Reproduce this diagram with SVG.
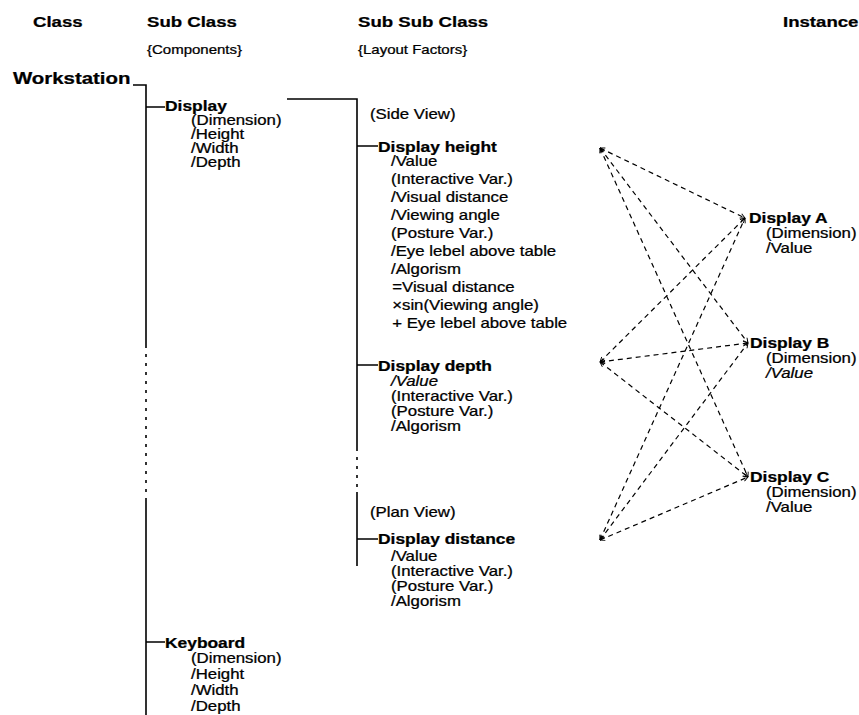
<svg xmlns="http://www.w3.org/2000/svg" width="859" height="715" viewBox="0 0 859 715">
  <defs>
    <style>
      .t{font-family:"Liberation Sans",Arial,Helvetica,sans-serif;font-size:14px;fill:#000;stroke:#000;stroke-width:0.25}
      .b{font-weight:bold;font-size:14.5px}
      .h{font-weight:bold;font-size:15.5px}
      .ws{font-weight:bold;font-size:17px}
      .s{font-size:12.5px}
      .i{font-style:italic}
      .ln{stroke:#000;stroke-width:1.6;fill:none}
      .br{stroke:#000;stroke-width:1.6;fill:none;stroke-dasharray:3 6}
      .dl{stroke:#000;stroke-width:1.2;fill:none;stroke-dasharray:5 4}
    </style>
    <marker id="tip" viewBox="0 0 10 10" refX="9" refY="5" markerWidth="6" markerHeight="6" markerUnits="userSpaceOnUse" orient="auto-start-reverse">
      <path d="M1,1 L9,5 L1,9" fill="none" stroke="#000" stroke-width="1.5"/>
    </marker>
  </defs>
  <rect width="859" height="715" fill="#fff"/>

  <!-- column headings -->
  <g id="headings" class="t">
    <text class="h" transform="matrix(1.2,0,0,1,33,27)">Class</text>
    <text class="h" transform="matrix(1.2,0,0,1,147,27)">Sub Class</text>
    <text class="h" transform="matrix(1.2,0,0,1,358,27)">Sub Sub Class</text>
    <text class="h" transform="matrix(1.2,0,0,1,783,27)">Instance</text>
    <text class="s" transform="matrix(1.2,0,0,1,147,54)">{Components}</text>
    <text class="s" transform="matrix(1.2,0,0,1,358,54)">{Layout Factors}</text>
  </g>

  <!-- tree connectors and instance links -->
  <g id="connectors">
    <path class="ln" d="M133,85 H146 V345 M146,500 V715 M146,107 H165 M146,642 H165"/>
    <path class="br" d="M146,345 V500"/>
    <path class="ln" d="M287,99 H357 V448 M357,492 V566 M357,146 H378 M357,365 H378 M357,539 H378"/>
    <path class="br" d="M357,448 V492"/>
    <g class="dl" marker-start="url(#tip)" marker-end="url(#tip)">
      <line x1="600" y1="148" x2="745" y2="218"/>
      <line x1="600" y1="148" x2="748" y2="343"/>
      <line x1="600" y1="148" x2="748" y2="477"/>
      <line x1="600" y1="362" x2="745" y2="218"/>
      <line x1="600" y1="362" x2="748" y2="343"/>
      <line x1="600" y1="362" x2="748" y2="477"/>
      <line x1="600" y1="540" x2="745" y2="218"/>
      <line x1="600" y1="540" x2="748" y2="343"/>
      <line x1="600" y1="540" x2="748" y2="477"/>
    </g>
  </g>

  <g id="workstation" class="t">
    <text class="ws" transform="matrix(1.2,0,0,1,13,84)">Workstation</text>
  </g>

  <g id="display" class="t">
    <text class="b" transform="matrix(1.2,0,0,1,165,111)">Display</text>
    <g transform="matrix(1.2,0,0,1,191,0)">
      <text y="125">(Dimension)</text>
      <text y="139">/Height</text>
      <text y="153">/Width</text>
      <text y="167">/Depth</text>
    </g>
  </g>

  <g id="keyboard" class="t">
    <text class="b" transform="matrix(1.2,0,0,1,165,648)">Keyboard</text>
    <g transform="matrix(1.2,0,0,1,191,0)">
      <text y="663">(Dimension)</text>
      <text y="679">/Height</text>
      <text y="695">/Width</text>
      <text y="711">/Depth</text>
    </g>
  </g>

  <g id="side-view" class="t">
    <text transform="matrix(1.2,0,0,1,370,119)">(Side View)</text>
  </g>

  <g id="display-height" class="t">
    <text class="b" transform="matrix(1.2,0,0,1,378,152)">Display height</text>
    <g transform="matrix(1.2,0,0,1,391,0)">
      <text y="166">/Value</text>
      <text y="184">(Interactive Var.)</text>
      <text y="202">/Visual distance</text>
      <text y="220">/Viewing angle</text>
      <text y="238">(Posture Var.)</text>
      <text y="256">/Eye lebel above table</text>
      <text y="274">/Algorism</text>
      <text y="292" x="1">=Visual distance</text>
      <text y="310" x="1">×sin(Viewing angle)</text>
      <text y="328" x="1">+ Eye lebel above table</text>
    </g>
  </g>

  <g id="display-depth" class="t">
    <text class="b" transform="matrix(1.2,0,0,1,378,371)">Display depth</text>
    <g transform="matrix(1.2,0,0,1,391,0)">
      <text y="386" class="i">/Value</text>
      <text y="401">(Interactive Var.)</text>
      <text y="416">(Posture Var.)</text>
      <text y="431">/Algorism</text>
    </g>
  </g>

  <g id="plan-view" class="t">
    <text transform="matrix(1.2,0,0,1,370,517)">(Plan View)</text>
  </g>

  <g id="display-distance" class="t">
    <text class="b" transform="matrix(1.2,0,0,1,378,544)">Display distance</text>
    <g transform="matrix(1.2,0,0,1,391,0)">
      <text y="561">/Value</text>
      <text y="576">(Interactive Var.)</text>
      <text y="591">(Posture Var.)</text>
      <text y="606">/Algorism</text>
    </g>
  </g>

  <g id="display-a" class="t">
    <text class="b" transform="matrix(1.2,0,0,1,749,223)">Display A</text>
    <g transform="matrix(1.2,0,0,1,766,0)">
      <text y="238">(Dimension)</text>
      <text y="253">/Value</text>
    </g>
  </g>

  <g id="display-b" class="t">
    <text class="b" transform="matrix(1.2,0,0,1,750,348)">Display B</text>
    <g transform="matrix(1.2,0,0,1,766,0)">
      <text y="363">(Dimension)</text>
      <text y="378" class="i">/Value</text>
    </g>
  </g>

  <g id="display-c" class="t">
    <text class="b" transform="matrix(1.2,0,0,1,750,482)">Display C</text>
    <g transform="matrix(1.2,0,0,1,766,0)">
      <text y="497">(Dimension)</text>
      <text y="512">/Value</text>
    </g>
  </g>
</svg>
